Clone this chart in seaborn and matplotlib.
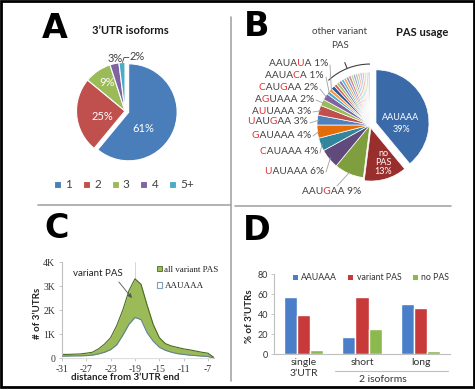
import numpy as np
import pandas as pd
import matplotlib
matplotlib.use("Agg")
import matplotlib.pyplot as plt
import seaborn as sns
from matplotlib.patches import Patch, Rectangle, Arc
from matplotlib.transforms import Bbox

sns.set_theme(style="white")
plt.rcParams['font.family'] = ['Lato', 'DejaVu Sans']

# ---------------- data ----------------
isoform_labels = ['1', '2', '3', '4', '5+']
isoform_pct = [61, 25, 9, 3, 2]

pas_names = ['AAUAAA', 'no PAS', 'AAUGAA', 'UAUAAA', 'CAUAAA', 'GAUAAA',
             'UAUGAA', 'AUUAAA', 'AGUAAA', 'CAUGAA', 'AAUACA', 'AAUAUA']
pas_pct = [39, 13, 9, 6, 4, 4, 3, 3, 2, 2, 1, 1]
other_variant_pct = [1.2, 0.9, 0.9, 0.9, 0.8, 0.8, 0.8, 0.8, 0.7, 0.7,
                     0.7, 0.7, 0.7, 0.6, 0.6, 0.6, 0.6]

dist = [-31, -30, -29, -28, -27, -26, -25, -24, -23, -22, -21, -20, -19,
        -18, -17, -16, -15, -14, -13, -12, -11, -10, -9, -8, -7, -6]
all_variant = [150, 150, 160, 170, 200, 240, 380, 580, 850, 1350, 2000, 2800, 3300,
               3070, 2200, 1400, 850, 600, 500, 440, 380, 340, 290, 240, 200, 20]
aauaaa = [80, 80, 90, 90, 100, 120, 170, 240, 350, 550, 950, 1400, 1690,
          1600, 1050, 700, 450, 320, 240, 180, 150, 120, 100, 80, 60, 0]
c_xticks = [-31, -27, -23, -19, -15, -11, -7]
c_yticks = [0, 1000, 2000, 3000, 4000]
c_yticklabels = ['0', '1K', '2K', '3K', '4K']

groups = ['single\n3\u2019UTR', 'short', 'long']
signals = ['AAUAAA', 'variant PAS', 'no PAS']
pct_aauaaa = [57, 17, 50]
pct_variant = [39, 57, 46]
pct_nopas = [4, 25, 3]

# ---------------- styles ----------------
colA = ['#4a7ebb', '#c0504d', '#9bbb59', '#8064a2', '#4bacc6']
colB = ['#3a6aa8', '#982f2c', '#7f9f3f', '#604a7b', '#31859c', '#e46c0a',
        '#4f81bd', '#c0504d', '#9bbb59', '#8064a2', '#4bacc6', '#f79646']
col_other = ['#2c5a96', '#d0605d', '#a9c46a', '#9076b0', '#5fb8d0', '#f8a45e',
             '#7fa3d3', '#d88a88', '#c2d698', '#b2a2c8', '#93cfe0', '#fbc08f',
             '#b9cbe4', '#e8b9b8', '#d7e4bd', '#d9d9d9', '#cccccc']
colD = ['#4a7ec8', '#c83a3a', '#8cb94e']
GRAY = '#404040'
RED = '#e03030'

W, H = 475, 390
fig = plt.figure(figsize=(4.75, 3.9), dpi=100)
fig.patch.set_facecolor('white')


def ax_px(l, t, r, b):
    return fig.add_axes([l / W, 1 - b / H, (r - l) / W, (b - t) / H])


# ---------------- Panel A pie ----------------
cxA, cyA, rA = 125, 111, 48.5
axA = ax_px(cxA - 70, cyA - 70, cxA + 70, cyA + 70)
wedgesA, _ = axA.pie(isoform_pct, colors=colA, startangle=90, counterclock=False,
                     explode=[0.08, 0, 0, 0, 0],
                     wedgeprops=dict(edgecolor='white', linewidth=0.8))
axA.set_xlim(-70 / rA, 70 / rA)
axA.set_ylim(-70 / rA, 70 / rA)
axA.set_aspect('equal')
axA.legend(wedgesA, isoform_labels, ncol=5, loc='center',
           bbox_to_anchor=(124 / W, 1 - 185 / H), bbox_transform=fig.transFigure,
           frameon=False, handlelength=0.6, handleheight=0.6, handletextpad=0.35,
           columnspacing=0.9, prop=dict(family='Lato', size=8.5),
           labelcolor=GRAY)

# ---------------- Panel B pie ----------------
cxB, cyB, rB = 370, 125, 53
axB = ax_px(cxB - 70, cyB - 70, cxB + 70, cyB + 70)
b_vals = pas_pct + other_variant_pct
b_cols = colB + col_other
explB = [0.12, 0.06] + [0] * (len(b_vals) - 2)
axB.pie(b_vals, colors=b_cols, startangle=90, counterclock=False, explode=explB,
        wedgeprops=dict(edgecolor='white', linewidth=0.5))
axB.set_xlim(-70 / rB, 70 / rB)
axB.set_ylim(-70 / rB, 70 / rB)
axB.set_aspect('equal')
axB.add_patch(Arc((0, 0), 2 * 1.15, 2 * 1.15, theta1=90, theta2=133,
                  color=GRAY, lw=0.8, clip_on=False))
tick_ang = np.deg2rad(112)
axB.plot([1.15 * np.cos(tick_ang), 1.27 * np.cos(tick_ang)],
         [1.15 * np.sin(tick_ang), 1.27 * np.sin(tick_ang)],
         color=GRAY, lw=0.8, clip_on=False)

# ---------------- Panel C ----------------
green = '#9bbb59'
axC = ax_px(62, 262, 214, 358)
axC.axvline(-19, color='#cfcfcf', lw=0.6, zorder=0.5)
axC.fill_between(dist, 0, all_variant, color=green, lw=0, zorder=1)
sns.lineplot(x=dist, y=all_variant, ax=axC, color='#4b6b22', lw=0.8, zorder=2)
axC.fill_between(dist, 0, aauaaa, color='white', lw=0, zorder=3)
sns.lineplot(x=dist, y=aauaaa, ax=axC, color='#5f8494', lw=0.8, zorder=4)
axC.set_xlim(-31, -6)
axC.set_ylim(0, 4000)
axC.set_xticks(c_xticks)
axC.set_xticklabels([str(v) for v in c_xticks])
axC.set_yticks(c_yticks)
axC.set_yticklabels(c_yticklabels)
for sp in ['top', 'right']:
    axC.spines[sp].set_visible(False)
for sp in ['left', 'bottom']:
    axC.spines[sp].set_color('#bfbfbf')
    axC.spines[sp].set_linewidth(0.8)
axC.tick_params(axis='both', length=2, width=0.6, color='#bfbfbf', pad=3,
                labelsize=7, labelcolor='#333333', left=True, bottom=True)
for lab in axC.get_xticklabels() + axC.get_yticklabels():
    lab.set_family('Liberation Serif')
axC.set_xlabel('')
axC.set_ylabel('')
hC = [Patch(facecolor=green, edgecolor='#4b6b22', lw=0.6),
      Patch(facecolor='white', edgecolor='#7f9fb8', lw=0.8)]
axC.legend(hC, ['all variant PAS', 'AAUAAA'], loc='upper left',
           bbox_to_anchor=(0.6, 1.0), frameon=False, borderaxespad=0,
           handlelength=0.6, handleheight=0.6, handletextpad=0.25,
           labelspacing=0.9, prop=dict(family='Liberation Serif', size=6.5),
           labelcolor='#222222')
axC.annotate('variant PAS', xy=(-19.5, 2500), xytext=(-25.1, 3540),
             ha='center', va='center', fontsize=7, color='#222222',
             arrowprops=dict(arrowstyle='-|>', color='#555555', lw=0.6,
                             mutation_scale=6, relpos=(0.85, 0.0),
                             shrinkA=1, shrinkB=0))

# ---------------- Panel D ----------------
axD = ax_px(274, 274, 450, 354)
dfD = pd.DataFrame({
    'group': groups * 3,
    'signal': [s for s in signals for _ in groups],
    'pct': pct_aauaaa + pct_variant + pct_nopas,
})
sns.barplot(data=dfD, x='group', y='pct', hue='signal', palette=colD,
            saturation=1, width=0.667, errorbar=None, ax=axD)
axD.set_xlim(-0.5, 2.5)
axD.set_ylim(0, 80)
axD.set_yticks([0, 20, 40, 60, 80])
axD.set_xlabel('')
axD.set_ylabel('')
for sp in ['top', 'right']:
    axD.spines[sp].set_visible(False)
for sp in ['left', 'bottom']:
    axD.spines[sp].set_color('#bfbfbf')
    axD.spines[sp].set_linewidth(0.8)
axD.tick_params(axis='y', length=2, width=0.6, color='#bfbfbf', pad=2,
                labelsize=6.5, labelcolor='#333333', left=True)
axD.tick_params(axis='x', length=0, pad=3, labelsize=7.5, labelcolor='#333333')
hD = [Patch(facecolor=c, edgecolor='none') for c in colD]
axD.legend(hD, signals, ncol=3, loc='center',
           bbox_to_anchor=(0.55, 0.95), frameon=False, borderaxespad=0,
           handlelength=0.6, handleheight=0.6, handletextpad=0.35,
           columnspacing=1.3, prop=dict(family='Lato', size=6.3),
           labelcolor='#333333')

# ---------------- overlay (pixel coords) ----------------
ov = fig.add_axes([0, 0, 1, 1])
ov.set_xlim(0, W)
ov.set_ylim(H, 0)
ov.axis('off')
ov.set_zorder(10)

# frame and separators
ov.add_patch(Rectangle((1.2, 1.2), W - 2.6, H - 4.2, fill=False, ec='black', lw=2.0))
sep = dict(color='#a6a6a6', lw=1.2)
ov.plot([231, 231], [17, 381], **sep)
ov.plot([38, 231], [205, 205], **sep)
ov.plot([235, 451], [206, 206], **sep)

big = dict(family='DejaVu Sans', weight='bold', size=24, ha='center',
           va='center', color='black')
ov.text(55, 28, 'A', **big)
ov.text(257, 26, 'B', **big)
ov.text(57, 229, 'C', **big)
ov.text(257, 231, 'D', **big)

ttl = dict(weight='bold', size=8, ha='center', va='center', color='#1a1a1a')
ov.text(130, 31, '3\u2019UTR isoforms', **ttl)
ov.text(422, 32, 'PAS usage', **ttl)
ov.text(340, 32, 'other variant', size=7, ha='center', va='center', color=GRAY)
ov.text(340, 45, 'PAS', size=7, ha='center', va='center', color=GRAY)

# Panel A slice labels
ov.text(143, 129, '61%', size=8, color='white', ha='center', va='center')
ov.text(102, 117, '25%', size=8, color='white', ha='center', va='center')
ov.text(107, 83, '9%', size=8, color='white', ha='center', va='center')
ov.text(115, 58, '3%', size=8, color=GRAY, ha='center', va='center')
ov.text(137, 57, '2%', size=8, color=GRAY, ha='center', va='center')
ov.plot([122.5, 124, 129], [62.5, 57.5, 57.5], color=GRAY, lw=0.6)

# Panel B inner labels
ov.text(401, 118, 'AAUAAA', size=6.5, color='white', ha='center', va='center')
ov.text(401, 129, '39%', size=6.5, color='white', ha='center', va='center')
ov.text(383, 153, 'no', size=6.5, color='white', ha='center', va='center')
ov.text(383, 162.5, 'PAS', size=6.5, color='white', ha='center', va='center')
ov.text(383, 172, '13%', size=6.5, color='white', ha='center', va='center')

renderer = fig.canvas.get_renderer()


def text_width(s, size):
    if not s:
        return 0.0
    t = ov.text(0, 0, s, size=size, family='Lato')
    w = t.get_window_extent(renderer).width
    t.remove()
    return w


def rich_label(x, y, motif, pct, ha='right', size=7.3):
    """Draw the full label once per colour run, each copy clipped (clip box)
    to its run, so every glyph keeps its natural position in the string."""
    s = f'{motif} {pct}%'
    ref = 'AAUAAA'
    cols = [RED if (i < 6 and motif[i] != ref[i]) else GRAY for i in range(len(s))]
    total = text_width(s, size)
    x0 = x - total if ha == 'right' else x - total / 2
    bounds = [x0 - 3]
    for i in range(1, len(s)):
        bounds.append(x0 + text_width(s[:i], size) + 0.4)
    bounds.append(x0 + total + 3)
    start = 0
    for i in range(1, len(s) + 1):
        if i == len(s) or cols[i] != cols[start]:
            xa, xb = bounds[start], bounds[i]
            p1 = ov.transData.transform((xa, y - 12))
            p2 = ov.transData.transform((xb, y + 12))
            bb = Bbox.from_extents(min(p1[0], p2[0]), min(p1[1], p2[1]),
                                   max(p1[0], p2[0]), max(p1[1], p2[1]))
            t = ov.text(x0, y, s, size=size, family='Lato', color=cols[start],
                        ha='left', va='center')
            t.set_clip_on(True)
            t.set_clip_box(bb)
            t.set_clip_path(None)
            start = i


label_layout = [  # (x anchor, y, ha) for pas_names[2:]
    (332, 192, 'center'), (324, 171, 'right'), (318, 152, 'right'),
    (311, 135, 'right'), (308, 122, 'right'), (311, 111, 'right'),
    (314, 99, 'right'), (318, 88, 'right'), (324, 76, 'right'),
    (328, 64, 'right'),
]
cum = np.cumsum(b_vals) / np.sum(b_vals)
fracs = np.array(b_vals) / np.sum(b_vals)
for k, (lx, ly, ha) in enumerate(label_layout):
    idx = k + 2
    rich_label(lx, ly, pas_names[idx], pas_pct[idx], ha=ha)
    mid = cum[idx] - fracs[idx] / 2
    ang = np.deg2rad(90 - 360 * mid)
    ex = cxB + rB * 0.97 * np.cos(ang)
    ey = cyB - rB * 0.97 * np.sin(ang)
    if ha == 'center':
        sx, sy = lx + 5, ly - 6
    else:
        sx, sy = lx + 2, ly + 1
    ov.plot([sx, ex], [sy, ey], color='#a0a0a0', lw=0.6)

# Panel C axis labels
ov.text(37, 313, '# of 3\u2019UTRs', rotation=90, weight='bold', size=7,
        ha='center', va='center', color='#222222')
ov.text(125, 378, 'distance from 3\u2019UTR end', weight='bold', size=7,
        ha='center', va='center', color='#222222')

# Panel D labels
ov.text(249, 316, '% of 3\u2019UTRs', rotation=90, weight='bold', size=7,
        ha='center', va='center', color='#222222')
ov.plot([335, 448], [371, 371], color='#bfbfbf', lw=0.8)
ov.text(383, 379, '2 isoforms', size=7.5, ha='center', va='center', color='#333333')

fig.savefig('out.png', dpi=100, facecolor='white')
